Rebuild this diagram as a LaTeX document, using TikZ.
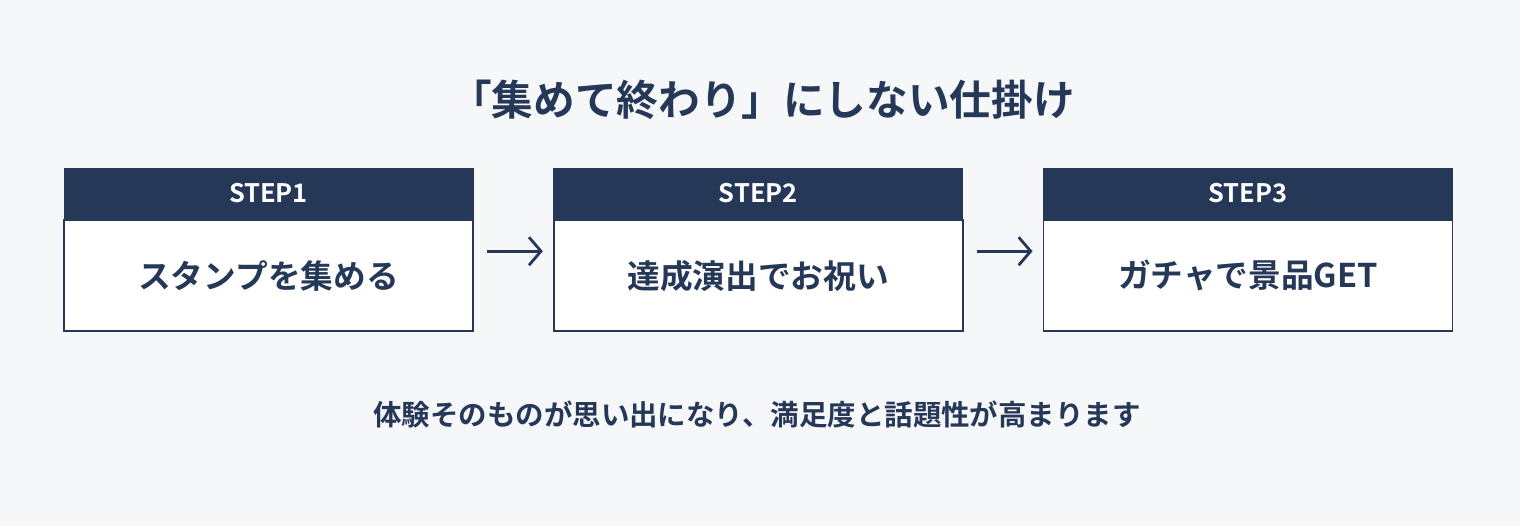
\documentclass[tikz,border=0pt]{standalone}
\usepackage{fontspec}
\setmainfont{Noto Sans CJK JP}[BoldFont={Noto Sans CJK JP Bold}]
\usepackage{tikz}
\usetikzlibrary{positioning, arrows.meta}
\definecolor{navy}{HTML}{253858}
\definecolor{bgcol}{HTML}{F6F7F9}
\tikzstyle{head} = [draw=navy, fill=navy, text=white, font=\fontsize{14.5}{16}\selectfont\bfseries, minimum width=8.18cm, minimum height=1.02cm, inner sep=0pt]
\tikzstyle{body} = [draw=navy, line width=1pt, fill=white, text=navy, font=\fontsize{18.6}{21}\selectfont\bfseries, minimum width=8.18cm, minimum height=2.22cm, inner sep=0pt]
\tikzstyle{arrow} = [navy, line width=1.6pt, -{Straight Barb[length=2.4mm, width=5.6mm]}]

\begin{document}
\begin{tikzpicture}
    % Background
    \fill[bgcol] (0,0) rectangle (30.4,10.52);
    \useasboundingbox (0,0) rectangle (30.4,10.52);

    % Title
    \node[text=navy, font=\fontsize{23.7}{27}\selectfont\bfseries] (title) at (15.25,8.52) {「集めて終わり」にしない仕掛け};

    % Step boxes
    \node[head] (head1) at (5.37,6.65) {STEP1};
    \node[body, below=0pt of head1] (body1) {スタンプを集める};

    \node[head, right=1.6cm of head1] (head2) {STEP2};
    \node[body, below=0pt of head2] (body2) {達成演出でお祝い};

    \node[head, right=1.6cm of head2] (head3) {STEP3};
    \node[body, below=0pt of head3] (body3) {ガチャで景品GET};

    % Arrows
    \draw[arrow, shorten <=0.26cm, shorten >=0.2cm] ([yshift=0.49cm]body1.east) -- ([yshift=0.49cm]body2.west);
    \draw[arrow, shorten <=0.26cm, shorten >=0.2cm] ([yshift=0.49cm]body2.east) -- ([yshift=0.49cm]body3.west);

    % Note
    \node[text=navy, font=\fontsize{16.2}{19}\selectfont\bfseries] (note) at (15.14,2.22) {体験そのものが思い出になり、満足度と話題性が高まります};
\end{tikzpicture}
\end{document}
